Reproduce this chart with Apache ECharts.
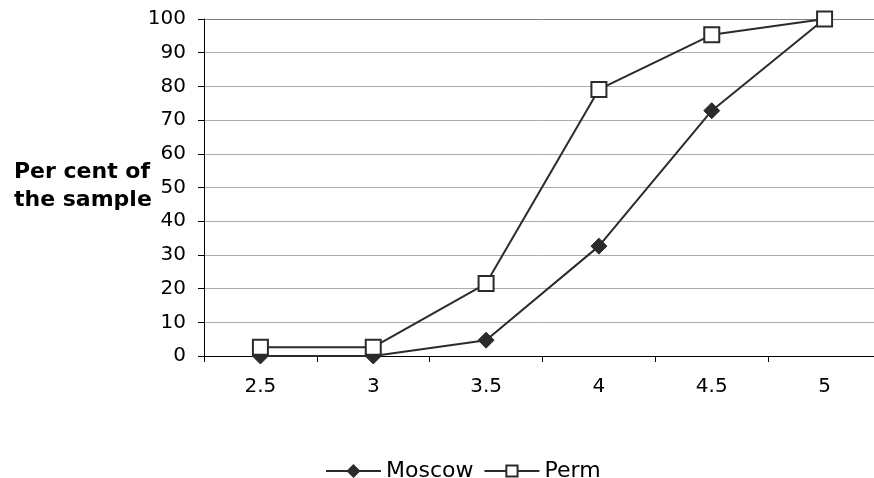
<!DOCTYPE html>
<html>
<head>
<meta charset="utf-8">
<script src="https://cdn.jsdelivr.net/npm/echarts@6/dist/echarts.min.js"></script>
<style>html,body{margin:0;padding:0;background:#fff;overflow:hidden;width:874px;height:478px}#c{width:881px;height:478px}</style>
</head>
<body>
<div id="c"></div>
<script>
const categories = ['2.5', '3', '3.5', '4', '4.5', '5'];
const moscow = [0, 0, 4.7, 32.6, 72.8, 100];
const perm = [2.6, 2.6, 21.5, 79.1, 95.3, 100];
const yTicks = { min: 0, max: 100, interval: 10 };

const chart = echarts.init(document.getElementById('c'));
const font = 'DejaVu Sans';
const gridColors = ['#ababab','#ababab','#ababab','#ababab','#ababab','#ababab','#ababab','#ababab','#ababab','#ababab','#7f7f7f'];
chart.setOption({
  animation: false,
  backgroundColor: '#fff',
  grid: { left: 204, top: 19, right: 0, bottom: 122 },
  graphic: [{
    type: 'text', left: 14, top: 158,
    style: { text: 'Per cent of\nthe sample', font: 'bold 22px "DejaVu Sans"', lineHeight: 28, fill: '#000', align: 'left' }
  }],
  legend: {
    left: 320, top: 455,
    itemWidth: 55, itemHeight: 14, itemGap: 10,
    textStyle: { fontFamily: font, fontSize: 22, color: '#000' },
    data: ['Moscow', 'Perm']
  },
  xAxis: {
    type: 'category', data: categories, boundaryGap: true,
    axisLine: { lineStyle: { color: '#000', width: 1 } },
    axisTick: { show: true, length: 6, interval: 0, lineStyle: { color: '#000' } },
    axisLabel: { fontFamily: font, fontSize: 20, color: '#000', margin: 21 },
    splitLine: { show: false }
  },
  yAxis: {
    type: 'value', min: yTicks.min, max: yTicks.max, interval: yTicks.interval,
    axisLine: { show: true, lineStyle: { color: '#000', width: 1 } },
    axisTick: { show: true, length: 6, lineStyle: { color: '#000' } },
    axisLabel: { fontFamily: font, fontSize: 20, color: '#000', margin: 18 },
    splitLine: { show: true, lineStyle: { color: gridColors, width: 1 } }
  },
  series: [
    {
      name: 'Moscow', type: 'line', data: moscow,
      symbol: 'diamond', symbolSize: 16,
      lineStyle: { color: '#2b2b2b', width: 2 },
      itemStyle: { color: '#2b2b2b', borderColor: '#2b2b2b', borderWidth: 1 },
      z: 3
    },
    {
      name: 'Perm', type: 'line', data: perm,
      symbol: 'rect', symbolSize: 15,
      lineStyle: { color: '#2b2b2b', width: 2 },
      itemStyle: { color: '#fff', borderColor: '#2b2b2b', borderWidth: 2 },
      z: 4
    }
  ]
});
</script>
</body>
</html>
